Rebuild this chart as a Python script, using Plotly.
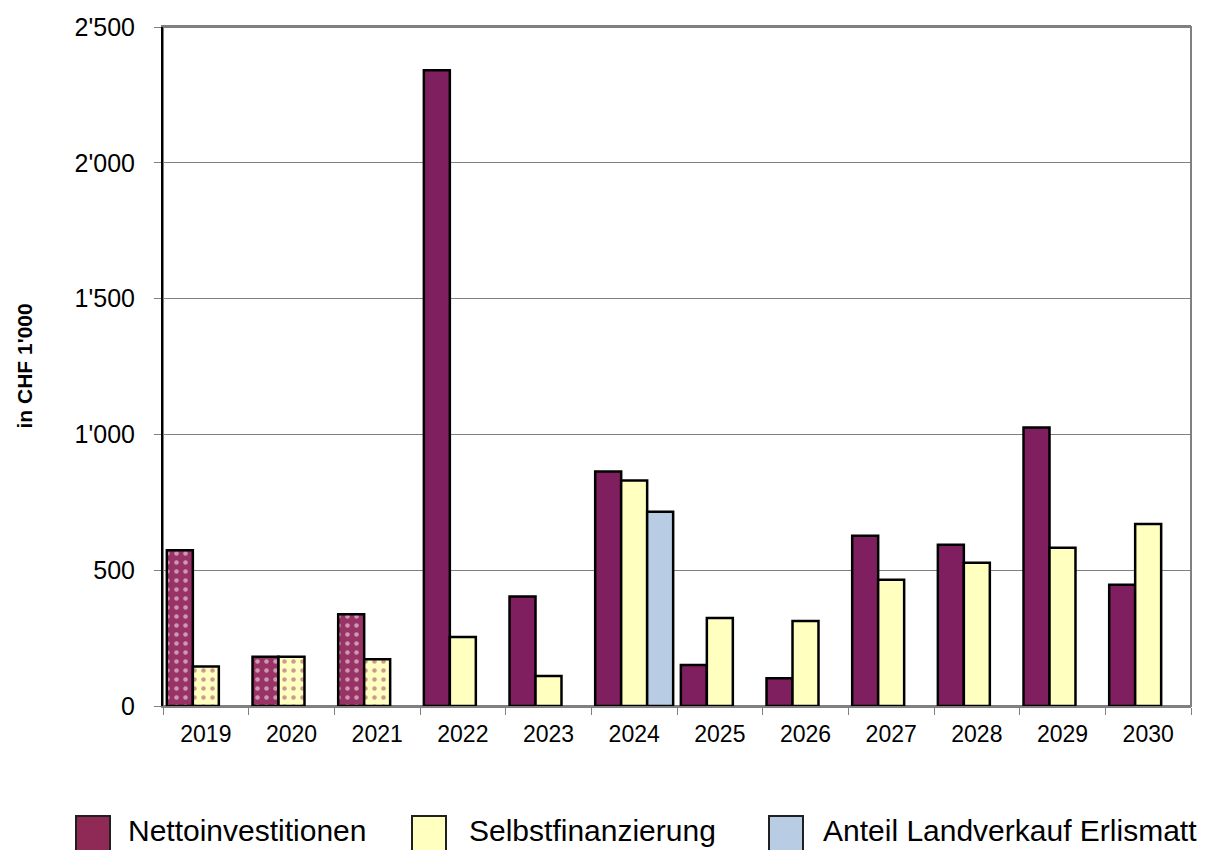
import plotly.graph_objects as go

years = ["2019", "2020", "2021", "2022", "2023", "2024", "2025", "2026", "2027", "2028", "2029", "2030"]
netto = [573, 181, 338, 2341, 403, 863, 151, 102, 627, 594, 1025, 446]
selbst = [145, 181, 172, 254, 110, 830, 324, 313, 465, 527, 583, 670]
anteil = [None, None, None, None, None, 715, None, None, None, None, None, None]
series_names = ["Nettoinvestitionen", "Selbstfinanzierung", "Anteil Landverkauf Erlismatt"]
y_ticks = [0, 500, 1000, 1500, 2000, 2500]
y_tick_labels = ["0", "500", "1'000", "1'500", "2'000", "2'500"]
past_years = ["2019", "2020", "2021"]

NETTO_C = "#7F1F5F"
NETTO_PAST = "#993366"
NETTO_LEG = "#8E2A55"
SELBST_C = "#FFFFC0"
ANTEIL_C = "#B8CCE4"

OFF = 8  # page body margin
W, H = 1221 - OFF, 850 - OFF
PL, PR, PT, PB = 163, 1191, 27, 706  # plot area in page pixels
L, T = PL - OFF, PT - OFF
R = W - (PR - OFF)
B = H - (PB - OFF)
PW, PH = PR - PL, PB - PT

def px_x(x):
    return (x - PL) / PW

def px_y(y):
    return (PB - y) / PH

is_past = [y in past_years for y in years]

fig = go.Figure()
fig.add_trace(go.Bar(
    x=years, y=netto, name=series_names[0], showlegend=False,
    marker=dict(
        color=[NETTO_PAST if p else NETTO_C for p in is_past],
        line=dict(color="black", width=2.5),
        pattern=dict(shape=["." if p else "" for p in is_past],
                     fgcolor="white", size=9, solidity=0.2, fillmode="overlay"),
    ),
))
fig.add_trace(go.Bar(
    x=years, y=selbst, name=series_names[1], showlegend=False,
    marker=dict(
        color=SELBST_C,
        line=dict(color="black", width=2.5),
        pattern=dict(shape=["." if p else "" for p in is_past],
                     fgcolor=NETTO_PAST, size=9, solidity=0.2, fillmode="overlay"),
    ),
))
fig.add_trace(go.Bar(
    x=years, y=anteil, name=series_names[2], showlegend=False,
    marker=dict(color=ANTEIL_C, line=dict(color="black", width=2.5)),
))

fig.update_layout(
    width=W, height=H,
    margin=dict(l=L, r=R, t=T, b=B),
    paper_bgcolor="white", plot_bgcolor="white",
    barmode="group", bargap=0.09, bargroupgap=0,
    showlegend=False,
    font=dict(family="Liberation Sans, Arial, sans-serif", color="black"),
    xaxis=dict(
        type="category", categoryorder="array", categoryarray=years,
        ticks="outside", tickson="boundaries", ticklen=7, tickcolor="#808080",
        showline=True, linecolor="#808080", linewidth=2, mirror=True,
        tickfont=dict(size=23), showgrid=False, automargin=False,
        ticklabelstandoff=6,
    ),
    yaxis=dict(
        range=[0, 2500], tickvals=y_ticks, ticktext=y_tick_labels,
        ticks="outside", ticklen=7, tickcolor="#808080",
        showline=True, linecolor="black", linewidth=2,
        showgrid=True, gridcolor="#808080", gridwidth=1,
        tickfont=dict(size=25), automargin=False, ticklabelstandoff=14,
        zeroline=False,
    ),
)
# gray border top/right
fig.add_shape(type="rect", xref="paper", yref="paper", x0=0, x1=1, y0=0, y1=1,
              line=dict(color="#808080", width=2), layer="below")

# y-axis title
fig.add_annotation(text="<b>in CHF 1'000</b>", xref="paper", yref="paper",
                   x=px_x(24), y=0.5, textangle=-90, showarrow=False,
                   font=dict(size=21), xanchor="center", yanchor="middle")

# legend (manual, large swatches)
leg_swatch_x = [76, 412, 769]
leg_text_x = [127, 468, 822]
leg_colors = [NETTO_LEG, SELBST_C, ANTEIL_C]
for name, sx, tx, col in zip(series_names, leg_swatch_x, leg_text_x, leg_colors):
    fig.add_shape(type="rect", xref="paper", yref="paper",
                  x0=px_x(sx), x1=px_x(sx + 34), y0=px_y(816), y1=px_y(852),
                  fillcolor=col, line=dict(color="#202020", width=2))
    fig.add_annotation(text=name, xref="paper", yref="paper", x=px_x(tx), y=px_y(830),
                       xanchor="left", yanchor="middle", showarrow=False,
                       font=dict(size=30), borderpad=0)

fig.write_html("out.html")
